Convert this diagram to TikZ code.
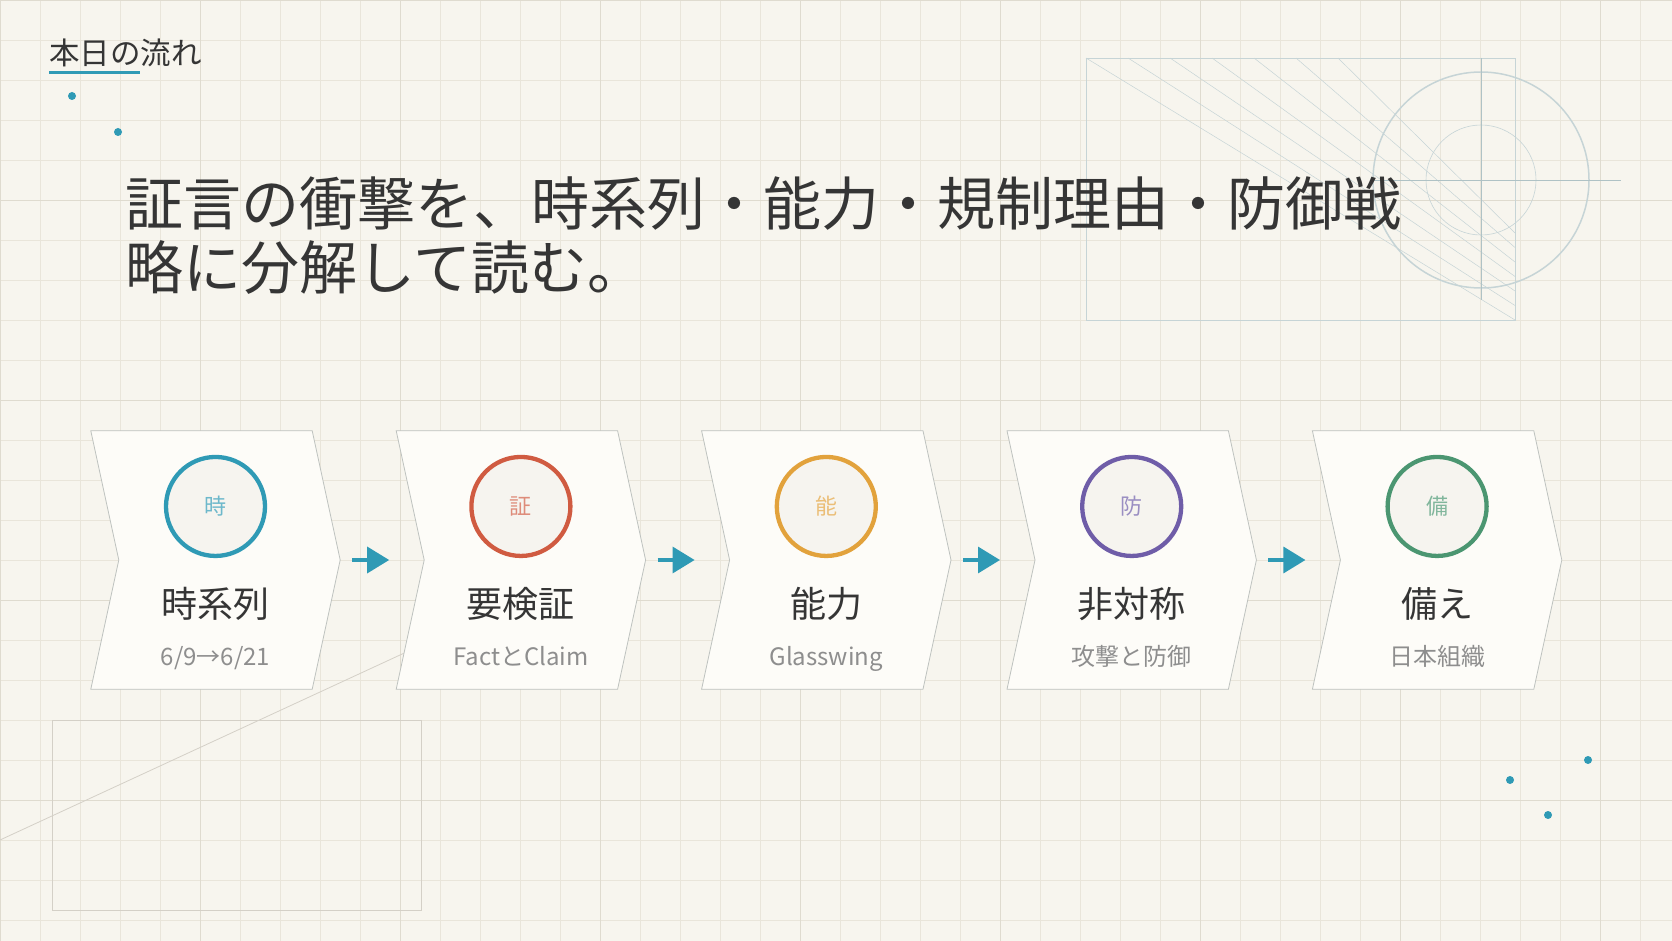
\documentclass[tikz,border=0pt]{standalone}
\usepackage{fontspec}
\setmainfont{Noto Sans CJK JP}
\usepackage{xcolor}
\definecolor{paper}{HTML}{F7F5EE}
\definecolor{gridline}{HTML}{E9E5DA}
\definecolor{gridmajor}{HTML}{DFDBCF}
\definecolor{panelfill}{HTML}{FDFCF8}
\definecolor{paneledge}{HTML}{BEC2BF}
\definecolor{badgefill}{HTML}{F6F4EF}
\definecolor{inkdark}{HTML}{353535}
\definecolor{inkgray}{HTML}{8E8E8E}
\definecolor{timeteal}{HTML}{2F9AB5}
\definecolor{claimred}{HTML}{D05B41}
\definecolor{abilorange}{HTML}{E2A23C}
\definecolor{asymviolet}{HTML}{6F5DA8}
\definecolor{prepgreen}{HTML}{4B9671}
\definecolor{sketchblue}{HTML}{C6D4D6}
\definecolor{sketchaxis}{HTML}{AFC2C5}
\definecolor{sketchbeige}{HTML}{D4D0C7}
\usepackage{tikz}
\usetikzlibrary{arrows.meta, positioning, calc}
\newcommand{\chevron}[1]{%
  \draw[chevline] (#1.north west) -- ([xshift=-28pt]#1.north east) -- (#1.east)
    -- ([xshift=-28pt]#1.south east) -- (#1.south west) -- ([xshift=28pt]#1.west) -- cycle;}
\tikzset{
  panel/.style={
    rectangle, minimum width=249pt, minimum height=258pt, inner sep=0pt},
  chevline/.style={
    draw=paneledge, fill=panelfill, line width=0.8pt},
  badge/.style={
    circle, draw=#1, fill=badgefill, line width=4.3pt, minimum size=99pt,
    inner sep=0pt, text=#1!70, font=\fontsize{22}{24}\selectfont},
  headtext/.style={
    anchor=base, inner sep=0pt, text=inkdark, font=\fontsize{36}{40}\selectfont},
  subtext/.style={
    anchor=base, inner sep=0pt, text=inkgray, font=\fontsize{24}{28}\selectfont},
  spot/.style={circle, fill=timeteal, inner sep=0pt, minimum size=8pt},
  arr/.style={-{Triangle[length=22pt, width=26pt]}, line width=3.3pt, timeteal},
}
\begin{document}
\begin{tikzpicture}[x=1pt, y=-1pt]
  \fill[paper] (0,0) rectangle (1672,941);
  \useasboundingbox (0,0) rectangle (1672,941);
  \draw[gridline, line width=0.8pt] (0,941) grid[step=40pt] (1672,0);
  \draw[gridmajor, line width=0.9pt] (0,941) grid[step=200pt] (1672,0);

  \draw[sketchblue, line width=0.9pt] (1086,58) rectangle (1515,320);
  \foreach \i in {0,...,6}
    \draw[sketchblue, line width=0.5pt] (1086+42*\i,58) -- (1515,320-14.5*\i);
  \draw[sketchblue, line width=1.5pt] (1481,180) circle[radius=108];
  \draw[sketchblue, line width=0.6pt] (1481,180) circle[radius=55];
  \draw[sketchaxis, line width=0.8pt] (1481,58) -- (1481,300) (1371,180) -- (1621,180);
  \draw[sketchbeige, line width=0.8pt] (52,720) rectangle (421,910);
  \draw[sketchbeige, line width=0.8pt] (0,840) -- (600,562.5);

  \node[spot] (d1) at (72,96) {};
  \node[spot] (d2) at (118,132) {};
  \node[spot] (d3) at (1588,760) {};
  \node[spot] (d4) at (1510,780) {};
  \node[spot] (d5) at (1548,815) {};

  \node[anchor=base west, inner sep=0pt, text=inkdark, font=\fontsize{30.5}{34}\selectfont]
    (hdr) at (49,64.6) {本日の流れ};
  \draw[timeteal, line width=3pt] ([yshift=-8.4pt]hdr.base west) -- ++(91,0);
  \node[anchor=base west, align=left, inner sep=0pt, text=inkdark,
        font=\fontsize{58}{64}\selectfont] (ttl) at (125,289)
    {証言の衝撃を、時系列・能力・規制理由・防御戦\\略に分解して読む。};

  \node[panel] (p1) at (215.5,560) {};
  \node[panel, right=56pt of p1] (p2) {};
  \node[panel, right=56pt of p2] (p3) {};
  \node[panel, right=56pt of p3] (p4) {};
  \node[panel, right=56pt of p4] (p5) {};
  \chevron{p1} \chevron{p2} \chevron{p3} \chevron{p4} \chevron{p5}

  \node[badge=timeteal, below=24pt of p1.north] (b1) {時};
  \node[badge=claimred, below=24pt of p2.north] (b2) {証};
  \node[badge=abilorange, below=24pt of p3.north] (b3) {能};
  \node[badge=asymviolet, below=24pt of p4.north] (b4) {防};
  \node[badge=prepgreen, below=24pt of p5.north] (b5) {備};

  \node[headtext] (h1) at ([yshift=-57pt]p1.center) {時系列};
  \node[headtext] (h2) at ([yshift=-57pt]p2.center) {要検証};
  \node[headtext] (h3) at ([yshift=-57pt]p3.center) {能力};
  \node[headtext] (h4) at ([yshift=-57pt]p4.center) {非対称};
  \node[headtext] (h5) at ([yshift=-57pt]p5.center) {備え};
  \node[subtext] (s1) at ([yshift=-105pt]p1.center) {6/9→6/21};
  \node[subtext] (s2) at ([yshift=-105pt]p2.center) {FactとClaim};
  \node[subtext] (s3) at ([yshift=-105pt]p3.center) {Glasswing};
  \node[subtext] (s4) at ([yshift=-105pt]p4.center) {攻撃と防御};
  \node[subtext] (s5) at ([yshift=-105pt]p5.center) {日本組織};

  \draw[arr, shorten <=12pt, shorten >=7pt] (p1.east) -- (p2.west);
  \draw[arr, shorten <=12pt, shorten >=7pt] (p2.east) -- (p3.west);
  \draw[arr, shorten <=12pt, shorten >=7pt] (p3.east) -- (p4.west);
  \draw[arr, shorten <=12pt, shorten >=7pt] (p4.east) -- (p5.west);
\end{tikzpicture}
\end{document}
